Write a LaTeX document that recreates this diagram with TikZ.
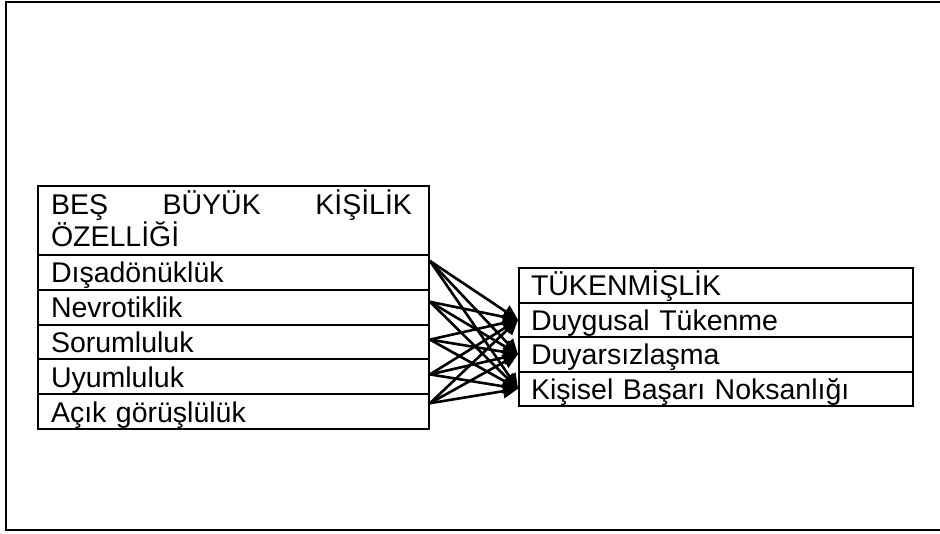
\documentclass[tikz,border=0pt]{standalone}
\usepackage{fontspec}
\setmainfont{Liberation Sans}
\usetikzlibrary{arrows.meta}
\tikzset{
  box/.style={draw, line width=2pt, anchor=north west, inner xsep=13pt, inner ysep=0pt,
    align=left, text height=21pt, text depth=0pt, font=\fontsize{28.5}{32}\selectfont},
  lrow/.style={box, minimum width=391pt, text width=365pt, minimum height=34.8pt},
  rrow/.style={box, minimum width=394pt, text width=370pt, minimum height=34.5pt, inner xsep=9pt},
  link/.style={line width=2.6pt, -{Triangle[length=15pt,width=14pt]}},
  frame/.style={line width=2pt}
}
\begin{document}
\begin{tikzpicture}[x=1pt,y=-1pt]
\useasboundingbox (0,0) rectangle (940,533);
\draw[frame] (941,2) -- (6,2) -- (6,530) -- (941,530);
% left table
\node[box, minimum width=391pt, text width=365pt, minimum height=69pt, text height=28pt, text depth=41pt] (hdr) at (37,185)
  {\vtop{\baselineskip=32pt\hbox to 361pt{BEŞ\hfill BÜYÜK\hfill KİŞİLİK}\hbox{ÖZELLİĞİ}}};
\node[lrow] (l1) at (37,254) {Dışadönüklük};
\node[lrow] (l2) at (37,288.8) {Nevrotiklik};
\node[lrow] (l3) at (37,323.6) {Sorumluluk};
\node[lrow] (l4) at (37,358.4) {Uyumluluk};
\node[lrow] (l5) at (37,393.2) {Açık görüşlülük};
% right table
\node[rrow] (rh) at (518,267) {TÜKENMİŞLİK};
\node[rrow] (r1) at (518,301.5) {Duygusal Tükenme};
\node[rrow] (r2) at (518,336) {Duyarsızlaşma};
\node[rrow] (r3) at (518,370.5) {Kişisel Başarı Noksanlığı};
% sources
\coordinate (s1) at ([yshift=-7pt]l1.north east);
\coordinate (s2) at ([yshift=-13pt]l2.north east);
\coordinate (s3) at ([yshift=-16pt]l3.north east);
\coordinate (s4) at ([yshift=-16pt]l4.north east);
\coordinate (s5) at ([yshift=-10pt]l5.north east);
\foreach \s in {s1,s2,s3,s4,s5}{
  \foreach \t in {r1,r2,r3}{
    \draw[link] (\s) -- (\t.west);
  }
}
\end{tikzpicture}
\end{document}
